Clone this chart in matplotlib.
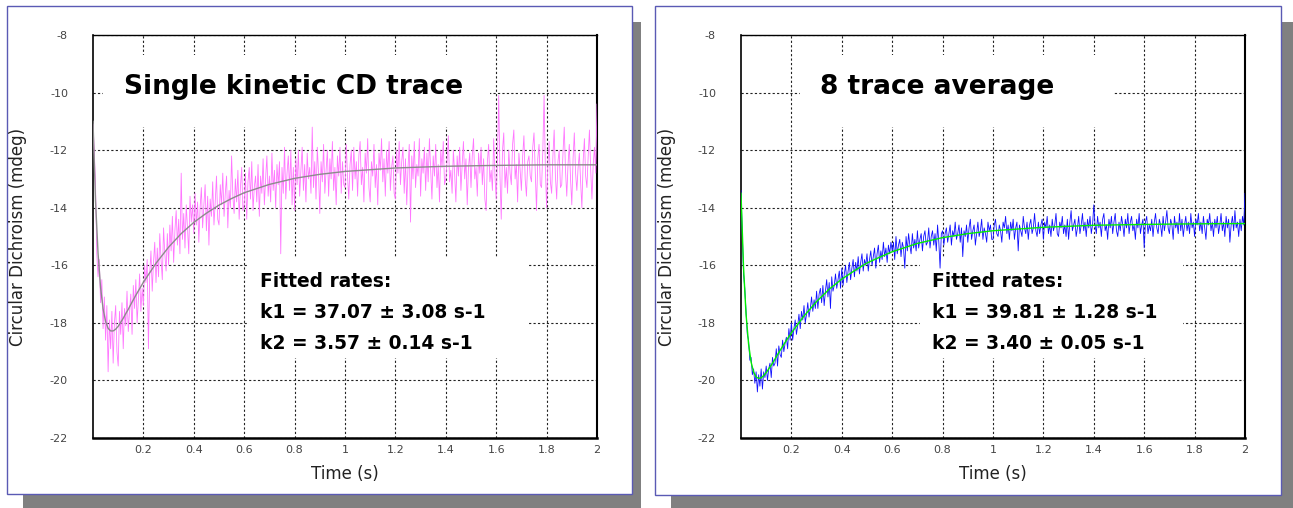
import numpy as np
import matplotlib
matplotlib.use('Agg')
import matplotlib.pyplot as plt
from matplotlib.patches import Rectangle

plt.rcParams['font.family'] = 'DejaVu Sans'
plt.rcParams['axes.unicode_minus'] = False
plt.rcParams['lines.scale_dashes'] = False

# sample times of the raw traces (s), one row below = 0.1 s
t_raw = np.round(np.arange(401) * 0.005, 3)

single_trace = [
    -11.1, -12.0, -13.2, -15.6, -16.4, -15.8, -17.3, -16.5, -18.2, -17.1, -18.6, -17.4, -19.7, -17.9, -18.9, -17.6, -19.4, -18.0, -17.4, -19.0,
    -19.5, -17.6, -18.4, -17.3, -18.9, -17.5, -18.1, -16.9, -18.3, -17.6, -17.0, -18.4, -16.7, -17.5, -16.5, -18.0, -17.2, -16.3, -17.6, -16.8,
    -17.4, -16.0, -16.6, -15.8, -18.9, -16.3, -15.5, -16.9, -15.9, -15.2, -16.6, -15.4, -16.4, -14.9, -15.8, -16.5, -14.7, -15.6, -16.2, -14.9,
    -16.0, -14.6, -15.5, -14.3, -15.9, -14.8, -14.1, -15.3, -14.4, -15.6, -12.8, -15.1, -14.2, -15.4, -13.9, -14.7, -15.6, -13.6, -14.5, -13.9,
    -14.9, -13.5, -14.6, -13.8, -15.2, -14.0, -13.3, -14.7, -13.9, -13.2, -14.8, -13.6, -15.3, -13.7, -14.3, -13.1, -14.6, -13.8, -12.9, -14.4,
    -14.6, -13.2, -13.9, -12.8, -14.3, -13.5, -12.9, -14.7, -13.4, -14.0, -12.2, -13.6, -14.2, -13.0, -13.8, -12.7, -14.4, -13.3, -12.6, -14.1,
    -13.9, -12.8, -14.4, -13.1, -12.6, -13.7, -12.4, -14.1, -13.3, -12.9, -13.8, -12.5, -14.3, -12.9, -13.5, -12.3, -13.9, -13.0, -12.2, -13.6,
    -12.9, -13.8, -12.1, -13.4, -12.7, -14.0, -12.5, -13.2, -12.4, -15.6, -12.6, -13.5, -11.9, -13.7, -12.8, -12.2, -13.4, -12.0, -13.9, -12.6,
    -14.1, -12.3, -13.2, -12.0, -13.6, -12.7, -11.9, -13.4, -12.5, -13.8, -12.1, -13.0, -12.6, -13.5, -11.2, -13.3, -12.4, -13.7, -11.9, -12.8,
    -14.2, -12.4, -13.1, -11.8, -13.5, -12.7, -12.0, -13.6, -12.3, -13.0, -11.7, -13.4, -12.6, -13.9, -12.2, -12.9, -11.9, -13.5, -12.4, -13.2,
    -13.3, -11.8, -12.9, -13.7, -12.5, -12.0, -13.4, -11.9, -13.0, -12.4, -13.6, -12.2, -11.7, -13.2, -12.6, -13.8, -12.1, -12.8, -11.6, -13.3,
    -13.8, -12.4, -12.9, -11.8, -13.3, -12.5, -13.9, -12.1, -12.7, -11.6, -13.1, -12.3, -13.6, -12.0, -12.8, -11.7, -13.4, -12.6, -12.2, -13.5,
    -13.7, -12.0, -12.8, -11.7, -13.2, -12.4, -11.9, -13.5, -12.3, -13.9, -12.6, -11.8, -14.5, -12.2, -13.0, -11.7, -13.3, -12.5, -12.9, -11.6,
    -13.6, -12.3, -12.8, -11.9, -13.4, -12.1, -13.1, -11.6, -12.7, -13.7, -12.2, -12.9, -11.8, -13.3, -12.5, -13.8, -12.0, -12.6, -11.7, -13.2,
    -13.0, -12.4, -11.5, -13.1, -12.7, -13.5, -12.0, -12.8, -13.8, -12.2, -12.9, -11.9, -13.4, -12.5, -11.7, -13.0, -12.3, -13.9, -12.6, -12.1,
    -13.3, -12.2, -11.6, -13.0, -12.6, -13.6, -12.1, -12.8, -11.9, -13.2, -12.3, -13.7, -14.1, -12.4, -11.8, -13.1, -12.7, -13.4, -11.6, -12.9,
    -13.7, -12.3, -10.1, -12.9, -14.4, -12.0, -11.4, -13.3, -12.6, -13.5, -12.0, -12.8, -13.2, -11.8, -11.3, -13.0, -12.5, -13.8, -12.1, -12.7,
    -13.4, -12.2, -11.5, -13.0, -13.6, -12.4, -12.2, -12.9, -13.1, -11.9, -11.4, -12.8, -14.1, -12.3, -11.8, -13.2, -13.3, -12.0, -10.1, -12.6,
    -14.0, -12.5, -11.7, -13.1, -13.5, -12.2, -11.3, -12.9, -13.7, -12.4, -12.0, -13.3, -13.2, -12.1, -11.2, -12.7, -13.6, -12.5, -11.8, -13.0,
    -13.9, -12.3, -11.4, -12.8, -13.4, -12.6, -12.1, -13.1, -14.0, -12.4, -11.6, -12.9, -13.3, -12.2, -11.3, -12.7, -13.7, -12.5, -11.9, -12.8,
    -10.4]

avg_trace = [
    -13.4, -14.8, -16.3, -16.8, -17.6, -18.4, -18.6, -19.3, -19.2, -19.8, -19.6, -20.1, -19.7, -20.4, -19.8, -20.2, -19.6, -20.3, -19.7, -19.9,
    -19.5, -20.0, -19.6, -19.4, -19.9, -19.2, -19.5, -19.4, -18.9, -19.5, -18.8, -19.1, -19.2, -18.6, -19.0, -18.7, -18.5, -18.9, -18.2, -18.6,
    -18.0, -18.6, -18.2, -17.9, -18.4, -18.1, -17.7, -18.2, -17.6, -17.9, -17.4, -18.0, -17.7, -17.3, -17.8, -17.5, -17.1, -17.6, -17.2, -17.5,
    -16.9, -17.5, -17.0, -16.8, -17.3, -16.7, -17.4, -16.9, -16.5, -17.1, -16.6, -17.5, -16.4, -16.9, -16.7, -16.3, -16.8, -16.5, -16.2, -16.8,
    -16.1, -16.7, -16.3, -16.0, -16.6, -16.2, -15.9, -16.5, -16.1, -15.8, -16.4, -15.9, -16.2, -15.7, -16.3, -15.9, -15.6, -16.2, -15.8, -16.0,
    -15.6, -16.2, -15.8, -15.5, -16.0, -15.7, -15.4, -16.1, -15.6, -15.3, -15.9, -15.5, -15.8, -15.2, -15.7, -15.4, -15.9, -15.3, -15.6, -15.2,
    -15.5, -15.2, -15.8, -15.0, -15.6, -15.3, -15.1, -15.7, -15.2, -15.4, -16.1, -15.0, -15.5, -14.9, -15.3, -15.6, -14.9, -15.4, -15.1, -15.5,
    -14.8, -15.4, -15.1, -14.9, -15.5, -15.0, -14.8, -15.3, -15.2, -14.7, -15.4, -15.0, -14.8, -15.3, -14.9, -15.5, -14.6, -15.2, -16.1, -14.9,
    -14.8, -15.3, -14.9, -14.7, -15.2, -14.9, -14.6, -15.3, -14.8, -15.0, -14.5, -15.1, -14.9, -14.6, -15.2, -14.7, -15.7, -14.8, -15.0, -14.6,
    -15.2, -14.7, -14.4, -15.1, -14.8, -14.6, -15.3, -14.9, -14.5, -15.0, -14.8, -14.4, -15.1, -14.7, -14.9, -15.2, -14.5, -14.8, -14.6, -15.1,
    -15.1, -14.6, -14.4, -14.9, -15.0, -14.6, -14.8, -15.2, -14.5, -14.7, -14.3, -14.9, -14.6, -15.1, -14.5, -14.8, -14.4, -15.1, -14.7, -14.5,
    -15.5, -14.6, -14.8, -15.0, -14.3, -14.7, -14.9, -14.5, -15.1, -14.6, -14.4, -14.9, -14.7, -14.2, -14.8, -15.0, -14.5, -14.9, -14.6, -14.4,
    -15.1, -14.5, -14.7, -14.3, -14.9, -14.6, -15.0, -14.4, -14.8, -14.6, -14.2, -14.9, -15.0, -14.5, -14.7, -14.3, -14.9, -14.6, -15.0, -14.4,
    -15.1, -14.5, -14.1, -14.8, -14.6, -14.4, -15.0, -14.7, -14.3, -14.9, -14.6, -14.2, -14.8, -14.5, -15.0, -14.4, -14.7, -14.3, -14.9, -14.6,
    -13.9, -14.6, -14.9, -14.3, -14.7, -14.5, -15.0, -14.4, -14.2, -14.8, -14.6, -15.1, -14.4, -14.7, -14.3, -14.9, -14.5, -14.2, -14.8, -15.0,
    -14.5, -14.8, -14.3, -14.6, -15.0, -14.4, -14.7, -14.2, -14.9, -14.5, -14.3, -14.8, -14.6, -15.1, -14.4, -14.7, -14.2, -14.9, -14.6, -14.4,
    -15.4, -14.5, -14.3, -14.9, -14.6, -14.8, -14.4, -15.0, -14.5, -14.2, -14.7, -14.9, -14.4, -14.6, -15.0, -14.3, -14.8, -14.5, -14.1, -14.7,
    -14.9, -14.4, -14.6, -15.1, -14.3, -14.7, -14.5, -14.9, -14.2, -14.8, -14.4, -15.0, -14.6, -14.3, -14.8, -14.5, -14.9, -14.2, -14.7, -14.5,
    -15.0, -14.4, -14.6, -14.2, -14.8, -14.5, -14.9, -14.3, -14.7, -15.1, -14.4, -14.6, -14.2, -14.8, -14.5, -15.0, -14.4, -14.7, -14.3, -14.9,
    -14.6, -14.2, -14.8, -14.5, -15.0, -14.3, -14.7, -14.4, -15.2, -14.6, -14.3, -14.8, -14.1, -14.7, -14.5, -15.0, -14.4, -14.8, -14.3, -14.6,
    -13.5]

# fitted curves
t_fit = [0, 0.01, 0.02, 0.03, 0.04, 0.05, 0.06, 0.07, 0.08, 0.09, 0.10,
         0.11, 0.12, 0.13, 0.14, 0.15, 0.16, 0.17, 0.18, 0.19, 0.20,
         0.25, 0.30, 0.35, 0.40, 0.45, 0.50, 0.55, 0.60, 0.70, 0.80, 0.90,
         1.00, 1.20, 1.40, 1.60, 1.80, 2.00]
single_fit = [-11.0, -13.76, -15.58, -16.77, -17.51, -17.95, -18.19, -18.28,
              -18.28, -18.22, -18.12, -17.98, -17.84, -17.68, -17.53, -17.36,
              -17.20, -17.04, -16.89, -16.74, -16.59,
              -15.93, -15.37, -14.90, -14.51, -14.19, -13.91, -13.68, -13.48,
              -13.19, -12.98, -12.84, -12.74, -12.62, -12.56, -12.53, -12.51,
              -12.51]
avg_fit = [-13.5, -16.06, -17.70, -18.73, -19.36, -19.71, -19.88, -19.93,
           -19.91, -19.83, -19.73, -19.60, -19.47, -19.33, -19.18, -19.03,
           -18.89, -18.75, -18.61, -18.48, -18.35,
           -17.76, -17.26, -16.83, -16.48, -16.19, -15.92, -15.72, -15.53,
           -15.24, -15.04, -14.90, -14.80, -14.68, -14.61, -14.58, -14.56,
           -14.55]

titles = ['Single kinetic CD trace', '8 trace average']
rates = [['Fitted rates:', 'k1 = 37.07 \u00b1 3.08 s-1', 'k2 = 3.57 \u00b1 0.14 s-1'],
         ['Fitted rates:', 'k1 = 39.81 \u00b1 1.28 s-1', 'k2 = 3.40 \u00b1 0.05 s-1']]
xticks = [0.2, 0.4, 0.6, 0.8, 1, 1.2, 1.4, 1.6, 1.8, 2]
xticklabels = ['0.2', '0.4', '0.6', '0.8', '1', '1.2', '1.4', '1.6', '1.8', '2']
yticks = [-8, -10, -12, -14, -16, -18, -20, -22]

W, H = 1293, 508
fig = plt.figure(figsize=(W / 100, H / 100), dpi=100)


def frect(x0, y0, x1, y1, **kw):
    fig.add_artist(Rectangle((x0 / W, 1 - y1 / H), (x1 - x0) / W, (y1 - y0) / H,
                             transform=fig.transFigure, zorder=-5, **kw))


# frames with drop shadows
frect(23, 22, 641, 508, fc='#808080', ec='none')
frect(7, 6, 632, 494, fc='white', ec='#5a5ab4', lw=1)
frect(671, 22, 1293, 508, fc='#808080', ec='none')
frect(655, 6, 1281, 495, fc='white', ec='#5a5ab4', lw=1)

panels = [
    dict(L=93, raw=single_trace, fit=single_fit, rc='#ff77ff', fc='#8c8c8c',
         tbox=(103, 490), fbox=(248, 528), tx=124, fx=260, ylab=18),
    dict(L=741, raw=avg_trace, fit=avg_fit, rc='#1010ff', fc='#00ee00',
         tbox=(800, 1114), fbox=(920, 1183), tx=820, fx=932, ylab=667),
]

for i, p in enumerate(panels):
    L = p['L']
    ax = fig.add_axes([L / W, 1 - 438 / H, 504 / W, 403 / H])

    def axc(px, py):
        return (px - L) / 504, (438 - py) / 403

    ax.plot(t_raw, p['raw'], color=p['rc'], lw=0.6, zorder=3)
    ax.plot(t_fit, p['fit'], color=p['fc'], lw=1.0, zorder=4)
    ax.set_xlim(0, 2)
    ax.set_ylim(-22, -8)
    ax.set_xticks(xticks)
    ax.set_xticklabels(xticklabels)
    ax.set_yticks(yticks)
    ax.set_yticklabels([str(v) for v in yticks])
    ax.tick_params(length=0, labelsize=8, labelcolor='#444444')
    ax.tick_params(axis='y', pad=18)
    ax.tick_params(axis='x', pad=5)
    ax.set_axisbelow(True)
    ax.grid(True, color='#222222', lw=0.8, linestyle=(0, (1.6, 1.6)))
    ax.spines['left'].set_linewidth(1.2)
    ax.spines['bottom'].set_linewidth(1.8)
    ax.spines['right'].set_linewidth(1.5)
    ax.spines['top'].set_linewidth(1.0)

    # white boxes behind the annotations
    x0, y0 = axc(p['tbox'][0], 127)
    x1, y1 = axc(p['tbox'][1], 55)
    ax.add_patch(Rectangle((x0, y0), x1 - x0, y1 - y0, transform=ax.transAxes,
                           fc='white', ec='none', zorder=1))
    x0, y0 = axc(p['fbox'][0], 358)
    x1, y1 = axc(p['fbox'][1], 258)
    ax.add_patch(Rectangle((x0, y0), x1 - x0, y1 - y0, transform=ax.transAxes,
                           fc='white', ec='none', zorder=1))

    ax.text(*axc(p['tx'], 94), titles[i], transform=ax.transAxes,
            fontsize=19, fontweight='bold', va='baseline', ha='left', zorder=5)
    for j, yb in enumerate([287, 318, 349]):
        ax.text(*axc(p['fx'], yb), rates[i][j], transform=ax.transAxes,
                fontsize=13.4, fontweight='bold', va='baseline', ha='left', zorder=5)

    fig.text(p['ylab'] / W, 1 - 237 / H, 'Circular Dichroism (mdeg)', rotation=90,
             ha='center', va='center', fontsize=12, color='#222222')
    fig.text((L + 252) / W, 1 - 474 / H, 'Time (s)', ha='center', va='center',
             fontsize=12, color='#222222')

fig.savefig('out.png', dpi=100)
